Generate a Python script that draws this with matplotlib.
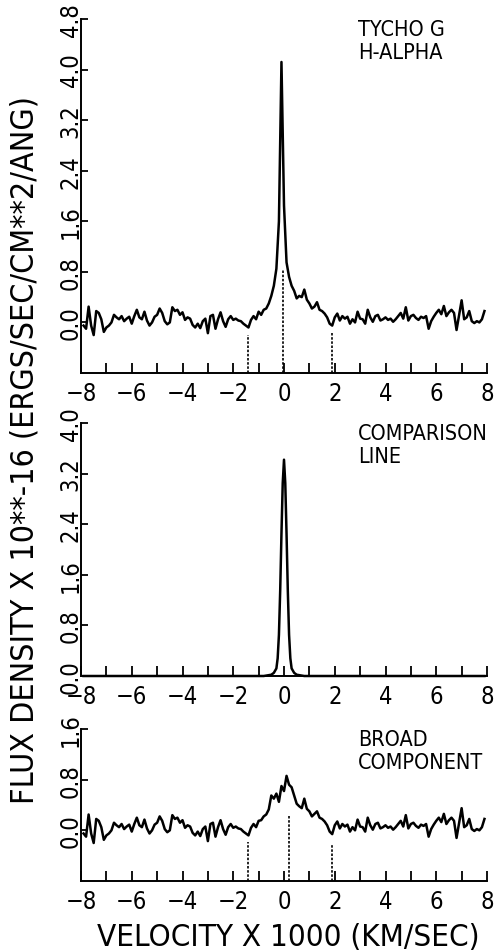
import numpy as np
import matplotlib
matplotlib.use("Agg")
import matplotlib.pyplot as plt
from matplotlib.ticker import MultipleLocator

plt.rcParams['font.family'] = ['DejaVu Sans']
plt.rcParams['font.stretch'] = 'condensed'

# velocity grid (x 1000 km/s) for the observed spectra
velocity = np.round(np.arange(-7.9, 7.95, 0.1), 2)

# Tycho G H-alpha, flux x 1e-16
tycho_flux = [
    -0.05, -0.10, 0.25, -0.05, -0.20, 0.18, 0.15, 0.05, -0.15, -0.08,   # -7.9 .. -7.0
    -0.05, 0.00, 0.12, 0.08, 0.05, 0.10, 0.02, 0.06, 0.09, -0.02,       # -6.9 .. -6.0
    0.10, 0.20, 0.08, 0.05, 0.17, 0.03, -0.05, 0.00, 0.09, 0.12,        # -5.9 .. -5.0
    0.22, 0.15, 0.02, -0.03, 0.00, 0.24, 0.18, 0.20, 0.12, 0.16,        # -4.9 .. -4.0
    0.04, 0.08, 0.06, -0.04, -0.08, -0.02, -0.09, 0.02, 0.06, -0.17,    # -3.9 .. -3.0
    0.10, 0.12, -0.10, 0.05, 0.16, 0.02, -0.07, 0.05, 0.10, 0.04,       # -2.9 .. -2.0
    0.06, 0.03, 0.02, -0.02, -0.05, -0.08, 0.04, 0.10, 0.05, 0.17,      # -1.9 .. -1.0
    0.12, 0.20, 0.22, 0.30, 0.42, 0.58, 0.85, 1.60, 4.12, 1.85,         # -0.9 .. 0.0
    0.95, 0.72, 0.58, 0.50, 0.38, 0.42, 0.40, 0.52, 0.36, 0.30,         # 0.1 .. 1.0
    0.22, 0.25, 0.32, 0.20, 0.18, 0.14, 0.08, -0.02, -0.05, 0.08,       # 1.1 .. 2.0
    0.14, 0.03, 0.10, 0.06, 0.09, -0.02, 0.05, 0.00, 0.17, 0.06,        # 2.1 .. 3.0
    0.05, -0.02, 0.20, 0.08, 0.01, 0.10, 0.12, 0.03, 0.05, 0.08,        # 3.1 .. 4.0
    0.04, 0.06, 0.01, 0.05, 0.10, 0.15, 0.06, 0.24, 0.03, 0.10,         # 4.1 .. 5.0
    0.12, 0.07, 0.04, 0.09, 0.07, 0.10, -0.10, 0.02, 0.09, 0.15,        # 5.1 .. 6.0
    0.20, 0.13, 0.26, 0.10, 0.16, 0.20, 0.15, -0.12, 0.12, 0.35,        # 6.1 .. 7.0
    0.05, 0.08, 0.18, 0.02, -0.01, 0.02, 0.00, 0.05, 0.18,              # 7.1 .. 7.9
]

# broad component (observed minus comparison line)
broad_flux = [
    -0.05, -0.10, 0.25, -0.05, -0.20, 0.18, 0.15, 0.05, -0.15, -0.08,
    -0.05, 0.00, 0.12, 0.08, 0.05, 0.10, 0.02, 0.06, 0.09, -0.02,
    0.10, 0.20, 0.08, 0.05, 0.17, 0.03, -0.05, 0.00, 0.09, 0.12,
    0.22, 0.15, 0.02, -0.03, 0.00, 0.24, 0.18, 0.20, 0.12, 0.16,
    0.04, 0.08, 0.06, -0.04, -0.08, -0.02, -0.09, 0.02, 0.06, -0.17,
    0.10, 0.12, -0.10, 0.05, 0.16, 0.02, -0.07, 0.05, 0.10, 0.04,
    0.06, 0.03, 0.02, -0.02, -0.05, -0.08, 0.04, 0.10, 0.05, 0.15,
    0.16, 0.22, 0.25, 0.33, 0.55, 0.50, 0.58, 0.45, 0.70, 0.62,
    0.86, 0.72, 0.68, 0.55, 0.42, 0.38, 0.35, 0.50, 0.34, 0.30,
    0.22, 0.26, 0.30, 0.20, 0.18, 0.14, 0.08, -0.02, -0.06, 0.08,
    0.14, 0.03, 0.10, 0.06, 0.09, -0.02, 0.05, 0.00, 0.17, 0.06,
    0.05, -0.02, 0.20, 0.08, 0.01, 0.10, 0.12, 0.03, 0.05, 0.08,
    0.04, 0.06, 0.01, 0.05, 0.10, 0.15, 0.06, 0.24, 0.03, 0.10,
    0.12, 0.07, 0.04, 0.09, 0.07, 0.10, -0.10, 0.02, 0.09, 0.15,
    0.20, 0.13, 0.26, 0.10, 0.16, 0.20, 0.15, -0.12, 0.12, 0.35,
    0.05, 0.08, 0.18, 0.02, -0.01, 0.02, 0.00, 0.05, 0.18,
]

# comparison (narrow) line profile
comp_velocity = [-7.9, -0.8, -0.5, -0.4, -0.3, -0.25, -0.2, -0.15, -0.1, -0.05, 0.0,
                 0.05, 0.1, 0.15, 0.2, 0.25, 0.3, 0.4, 0.5, 0.8, 7.9]
comp_flux = [0.0, 0.0, 0.02, 0.05, 0.12, 0.28, 0.65, 1.35, 2.25, 3.05, 3.42,
             3.05, 2.25, 1.35, 0.65, 0.28, 0.12, 0.05, 0.02, 0.0, 0.0]

# dotted markers: (velocity, top of the dotted line)
tycho_marks = [(-1.43, -0.2), (-0.05, 0.83), (1.9, -0.15)]
broad_marks = [(-1.42, -0.19), (0.2, 0.22), (1.9, -0.21)]

panel_text = ["TYCHO G\nH-ALPHA", "COMPARISON\nLINE", "BROAD\nCOMPONENT"]


fig = plt.figure(figsize=(4.96, 9.53), dpi=100)
W, H = 496., 953.
left, width = 81 / W, 406 / W
ax1 = fig.add_axes([left, 1 - 374 / H, width, 354 / H])
ax2 = fig.add_axes([left, 1 - 677 / H, width, 253 / H])
ax3 = fig.add_axes([left, 1 - 882 / H, width, 152 / H])

lw = 1.8
ax1.plot(velocity, tycho_flux, color='black', lw=lw)
ax2.plot(comp_velocity, comp_flux, color='black', lw=lw)
ax3.plot(velocity, broad_flux, color='black', lw=lw)

for ax, marks, ymin in [(ax1, tycho_marks, -0.8), (ax3, broad_marks, -0.8)]:
    for v, top in marks:
        ax.plot([v, v], [ymin, top], color='black', lw=1.2, ls=(0, (1.5, 1.0)))

ylims = [(-0.8, 4.8), (0.0, 4.0), (-0.8, 1.6)]
ytop = [4.8, 4.0, 1.6]
for ax, yl, yt, txt in zip([ax1, ax2, ax3], ylims, ytop, panel_text):
    ax.set_xlim(-8, 8)
    ax.set_ylim(*yl)
    ax.spines['top'].set_visible(False)
    ax.spines['right'].set_visible(False)
    ax.spines['left'].set_linewidth(1.4)
    ax.spines['bottom'].set_linewidth(1.4)
    ax.xaxis.set_major_locator(MultipleLocator(2))
    ax.xaxis.set_minor_locator(MultipleLocator(1))
    ax.set_yticks(np.arange(0, yt + 0.01, 0.8))
    ax.yaxis.set_major_formatter(plt.FormatStrFormatter('%.1f'))
    ax.tick_params(axis='x', which='both', direction='in', length=7, width=1.3,
                   pad=6, labelsize=17)
    ax.tick_params(axis='y', direction='in', length=5, width=1.3, pad=-1.3,
                   labelsize=17, labelrotation=90)
    for lab in ax.get_yticklabels():
        lab.set_va('center')
    ax.text(0.682, 1.0, txt, transform=ax.transAxes, ha='left', va='top',
            fontsize=15.5, linespacing=1.2)
    for line in ax.lines:
        line.set_clip_on(False)

fig.text(25 / W, 1 - 450 / H, "FLUX DENSITY X 10**-16 (ERGS/SEC/CM**2/ANG)",
         rotation=90, ha='center', va='center', fontsize=23)
fig.text(288 / W, 1 - 938 / H, "VELOCITY X 1000 (KM/SEC)",
         ha='center', va='center', fontsize=22.5)

fig.savefig("out.png", dpi=100)
